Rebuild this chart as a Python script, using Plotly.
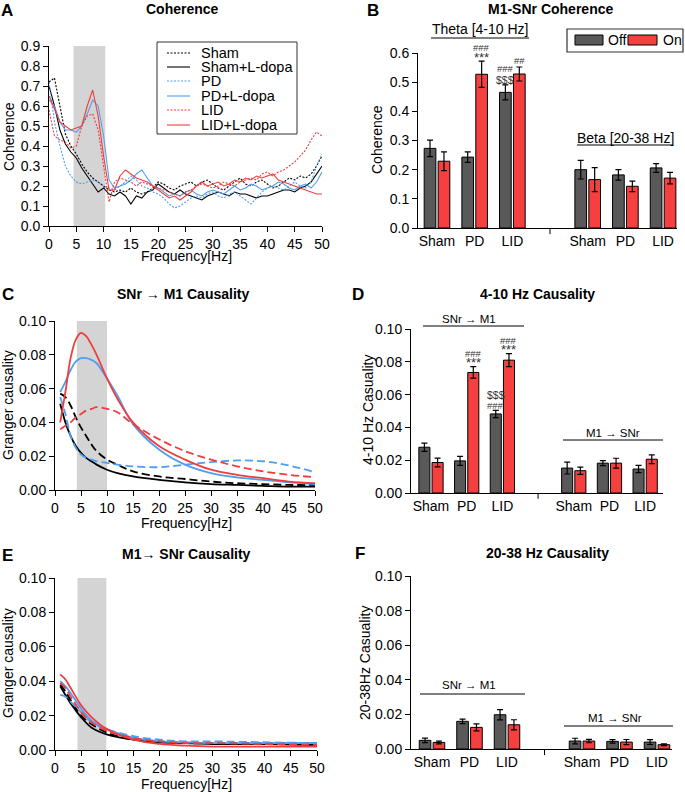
import plotly.graph_objects as go

W, H = 685, 792
FONT = "Liberation Sans, Arial, sans-serif"

# ---------- panel A: coherence spectra (1 Hz steps) ----------
freq_a = list(range(0, 51))
sham = [0.72, 0.74, 0.60, 0.46, 0.40, 0.36, 0.31, 0.27, 0.24, 0.22, 0.20, 0.18, 0.17, 0.18, 0.17, 0.19, 0.17,
        0.16, 0.17, 0.19, 0.22, 0.21, 0.19, 0.18, 0.20, 0.21, 0.22, 0.20, 0.22, 0.23, 0.21, 0.19, 0.18, 0.20,
        0.22, 0.24, 0.21, 0.20, 0.22, 0.23, 0.21, 0.19, 0.20, 0.22, 0.24, 0.23, 0.25, 0.24, 0.26, 0.30, 0.35]
sham_ld = [0.70, 0.60, 0.48, 0.41, 0.37, 0.34, 0.29, 0.25, 0.21, 0.17, 0.19, 0.16, 0.15, 0.17, 0.15, 0.11, 0.15,
           0.14, 0.17, 0.18, 0.21, 0.19, 0.17, 0.16, 0.18, 0.16, 0.15, 0.14, 0.13, 0.15, 0.16, 0.17, 0.16, 0.15,
           0.17, 0.16, 0.16, 0.15, 0.14, 0.15, 0.15, 0.16, 0.17, 0.18, 0.18, 0.17, 0.19, 0.20, 0.22, 0.26, 0.30]
pd_ = [0.72, 0.52, 0.40, 0.30, 0.25, 0.22, 0.21, 0.22, 0.23, 0.22, 0.20, 0.19, 0.18, 0.20, 0.22, 0.25, 0.23,
       0.20, 0.19, 0.17, 0.16, 0.14, 0.11, 0.09, 0.10, 0.12, 0.14, 0.15, 0.14, 0.16, 0.17, 0.15, 0.14, 0.16,
       0.17, 0.15, 0.13, 0.11, 0.14, 0.17, 0.19, 0.20, 0.19, 0.18, 0.20, 0.22, 0.20, 0.19, 0.22, 0.30, 0.36]
pd_ld = [0.63, 0.60, 0.52, 0.48, 0.48, 0.47, 0.50, 0.56, 0.63, 0.60, 0.45, 0.23, 0.19, 0.20, 0.21, 0.23, 0.26,
         0.28, 0.24, 0.20, 0.19, 0.17, 0.15, 0.16, 0.15, 0.17, 0.18, 0.16, 0.15, 0.17, 0.18, 0.17, 0.16, 0.18,
         0.20, 0.18, 0.19, 0.21, 0.20, 0.18, 0.19, 0.20, 0.22, 0.21, 0.19, 0.18, 0.20, 0.21, 0.19, 0.22, 0.27]
lid = [0.58, 0.45, 0.43, 0.42, 0.39, 0.40, 0.50, 0.55, 0.56, 0.48, 0.30, 0.12, 0.22, 0.24, 0.23, 0.22, 0.20,
       0.22, 0.21, 0.20, 0.19, 0.18, 0.17, 0.16, 0.15, 0.17, 0.18, 0.20, 0.21, 0.20, 0.19, 0.20, 0.22, 0.21,
       0.20, 0.22, 0.23, 0.24, 0.23, 0.26, 0.27, 0.25, 0.27, 0.28, 0.30, 0.32, 0.35, 0.38, 0.43, 0.47, 0.45]
lid_ld = [0.65, 0.58, 0.52, 0.50, 0.48, 0.49, 0.50, 0.60, 0.68, 0.55, 0.35, 0.18, 0.18, 0.25, 0.28, 0.26, 0.24,
          0.23, 0.22, 0.20, 0.18, 0.16, 0.14, 0.15, 0.13, 0.15, 0.17, 0.20, 0.22, 0.20, 0.21, 0.22, 0.20, 0.21,
          0.23, 0.22, 0.24, 0.23, 0.25, 0.24, 0.25, 0.26, 0.23, 0.22, 0.21, 0.20, 0.19, 0.18, 0.17, 0.16, 0.16]

# ---------- panel C: SNr -> M1 granger ----------
freq_c = [1, 2, 3, 4, 5, 6, 7, 8, 10, 12, 15, 20, 25, 30, 35, 40, 45, 50]
c_sham = [0.057, 0.055, 0.050, 0.043, 0.037, 0.032, 0.027, 0.023, 0.018, 0.015, 0.011, 0.008, 0.0065, 0.005, 0.004, 0.0035, 0.003, 0.003]
c_sham_ld = [0.051, 0.040, 0.032, 0.026, 0.022, 0.019, 0.017, 0.015, 0.012, 0.010, 0.008, 0.006, 0.0045, 0.0035, 0.003, 0.0025, 0.002, 0.002]
c_pd = [0.055, 0.045, 0.032, 0.025, 0.021, 0.019, 0.018, 0.017, 0.016, 0.015, 0.014, 0.0135, 0.015, 0.0165, 0.0175, 0.017, 0.0145, 0.0105]
c_pd_ld = [0.058, 0.064, 0.071, 0.076, 0.078, 0.078, 0.077, 0.075, 0.066, 0.056, 0.039, 0.024, 0.015, 0.010, 0.0075, 0.006, 0.0045, 0.0035]
c_lid = [0.036, 0.038, 0.040, 0.043, 0.045, 0.047, 0.048, 0.049, 0.048, 0.046, 0.039, 0.030, 0.023, 0.018, 0.014, 0.011, 0.009, 0.0075]
c_lid_ld = [0.040, 0.058, 0.078, 0.089, 0.093, 0.091, 0.086, 0.080, 0.066, 0.054, 0.040, 0.026, 0.018, 0.012, 0.009, 0.007, 0.005, 0.004]

# ---------- panel E: M1 -> SNr granger ----------
freq_e = [1, 2, 3, 5, 7, 10, 15, 20, 25, 30, 40, 50]
e_sham = [0.038, 0.034, 0.029, 0.020, 0.015, 0.010, 0.006, 0.005, 0.004, 0.004, 0.004, 0.004]
e_sham_ld = [0.037, 0.032, 0.027, 0.019, 0.013, 0.009, 0.006, 0.0045, 0.004, 0.0035, 0.0035, 0.003]
e_pd = [0.032, 0.031, 0.028, 0.022, 0.016, 0.012, 0.008, 0.006, 0.005, 0.005, 0.0045, 0.004]
e_pd_ld = [0.040, 0.037, 0.033, 0.024, 0.017, 0.012, 0.007, 0.005, 0.0045, 0.004, 0.004, 0.004]
e_lid = [0.039, 0.036, 0.031, 0.022, 0.016, 0.011, 0.007, 0.005, 0.004, 0.004, 0.0035, 0.003]
e_lid_ld = [0.044, 0.041, 0.036, 0.026, 0.019, 0.012, 0.006, 0.0035, 0.0025, 0.002, 0.002, 0.002]

# ---------- bar panels ----------
groups = ["Sham", "PD", "LID", "Sham", "PD", "LID"]
pos = [0, 1, 2, 4, 5, 6]

b_off = [0.273, 0.243, 0.465, 0.200, 0.182, 0.206]
b_off_err = [0.028, 0.018, 0.026, 0.032, 0.018, 0.015]
b_on = [0.229, 0.527, 0.528, 0.166, 0.143, 0.171]
b_on_err = [0.032, 0.045, 0.024, 0.041, 0.018, 0.020]

d_off = [0.0279, 0.0196, 0.0482, 0.0152, 0.0182, 0.0146]
d_off_err = [0.0025, 0.0027, 0.0022, 0.0036, 0.0015, 0.0022]
d_on = [0.0186, 0.0735, 0.0810, 0.0136, 0.0182, 0.0206]
d_on_err = [0.0027, 0.0035, 0.0040, 0.0022, 0.0030, 0.0027]

f_off = [0.0050, 0.0160, 0.0198, 0.0046, 0.0044, 0.0040]
f_off_err = [0.0013, 0.0013, 0.0030, 0.0016, 0.0010, 0.0014]
f_on = [0.0038, 0.0125, 0.0140, 0.0046, 0.0040, 0.0025]
f_on_err = [0.0008, 0.0020, 0.0029, 0.0010, 0.0015, 0.0005]

BLACK = "#000000"
BLUE = "#4f9ff0"
RED = "#f03c3c"
OFF_C = "#595959"
ON_C = "#f5403f"
DOT = "2px,1.5px"
DASH = "8px,4px"


def px(x):
    return x / W


def py(y):
    return 1 - y / H


fig = go.Figure()

# panel A lines
series_a = [("Sham", sham, BLACK, DOT), ("Sham+L-dopa", sham_ld, BLACK, "solid"),
            ("PD", pd_, BLUE, DOT), ("PD+L-dopa", pd_ld, BLUE, "solid"),
            ("LID", lid, RED, DOT), ("LID+L-dopa", lid_ld, RED, "solid")]
for name, ys, col, dash in series_a:
    fig.add_trace(go.Scatter(x=freq_a, y=ys, name=name, mode="lines", xaxis="x", yaxis="y",
                             line=dict(color=col, dash=dash, width=1.1), showlegend=False))

# panel C / E lines
styles = [(BLACK, DASH), (BLACK, "solid"), (BLUE, DASH), (BLUE, "solid"), (RED, DASH), (RED, "solid")]
for xa, ya, fr, data in [("x3", "y3", freq_c, [c_sham, c_sham_ld, c_pd, c_pd_ld, c_lid, c_lid_ld]),
                         ("x5", "y5", freq_e, [e_sham, e_sham_ld, e_pd, e_pd_ld, e_lid, e_lid_ld])]:
    for ys, (col, dash) in zip(data, styles):
        fig.add_trace(go.Scatter(x=fr, y=ys, mode="lines", xaxis=xa, yaxis=ya, showlegend=False,
                                 line=dict(color=col, dash=dash, width=1.8, shape="spline")))

# bar panels
bw = 0.31
off_shift = 0.185
for xa, ya, off, offe, on, one in [("x2", "y2", b_off, b_off_err, b_on, b_on_err),
                                   ("x4", "y4", d_off, d_off_err, d_on, d_on_err),
                                   ("x6", "y6", f_off, f_off_err, f_on, f_on_err)]:
    fig.add_trace(go.Bar(x=[p - off_shift for p in pos], y=off, width=bw, name="Off", xaxis=xa, yaxis=ya,
                         marker=dict(color=OFF_C, line=dict(color=BLACK, width=1)),
                         error_y=dict(type="data", array=offe, color=BLACK, thickness=1.2, width=3),
                         showlegend=False))
    fig.add_trace(go.Bar(x=[p + off_shift for p in pos], y=on, width=bw, name="On", xaxis=xa, yaxis=ya,
                         marker=dict(color=ON_C, line=dict(color=BLACK, width=1)),
                         error_y=dict(type="data", array=one, color=BLACK, thickness=1.2, width=3),
                         showlegend=False))

axis_common = dict(showline=True, linecolor=BLACK, linewidth=1, showgrid=False, zeroline=False,
                   ticks="outside", ticklen=5, tickcolor=BLACK, tickfont=dict(size=14, color=BLACK, family=FONT))


def line_x(dom, anchor):
    return dict(axis_common, domain=dom, anchor=anchor, range=[0, 50], dtick=5, tick0=0)


def bar_x(dom, anchor, rng):
    return dict(axis_common, domain=dom, anchor=anchor, range=rng, tickvals=pos, ticktext=groups,
                ticks="", ticklen=0)


def yax(dom, anchor, rng, dtick, fmt):
    return dict(axis_common, domain=dom, anchor=anchor, range=rng, dtick=dtick, tickformat=fmt)


fig.update_layout(
    width=W, height=H, margin=dict(l=0, r=0, t=0, b=0, autoexpand=False),
    paper_bgcolor="white", plot_bgcolor="white",
    font=dict(family=FONT, color=BLACK),
    barmode="overlay", showlegend=False,
    xaxis=line_x([px(49), px(322)], "y"),
    yaxis=yax([py(226), py(46)], "x", [0, 0.9], 0.1, ".1f"),
    xaxis2=bar_x([px(418), px(677)], "y2", [-0.504, 6.37]),
    yaxis2=yax([py(228), py(53)], "x2", [0, 0.6], 0.1, ".1f"),
    xaxis3=line_x([px(55), px(315)], "y3"),
    yaxis3=yax([py(490), py(321)], "x3", [0, 0.1], 0.02, ".2f"),
    xaxis4=bar_x([px(411), px(663)], "y4", [-0.56, 6.5]),
    yaxis4=yax([py(493), py(329)], "x4", [0, 0.1], 0.02, ".2f"),
    xaxis5=line_x([px(55), px(317)], "y5"),
    yaxis5=yax([py(750), py(578)], "x5", [0, 0.1], 0.02, ".2f"),
    xaxis6=bar_x([px(411), px(672)], "y6", [-0.56, 6.4]),
    yaxis6=yax([py(749), py(576)], "x6", [0, 0.1], 0.02, ".2f"),
)

shapes = []
# gray frequency bands
for xr, yr, x0, x1, top in [("x", "y", 4.5, 10.3, 0.9), ("x3", "y3", 4.2, 10.0, 0.1), ("x5", "y5", 4.3, 9.8, 0.1)]:
    shapes.append(dict(type="rect", xref=xr, yref=yr, x0=x0, x1=x1, y0=0, y1=top,
                       fillcolor="#d4d4d4", line=dict(width=0), layer="below"))
# separator ticks on bar axes
for xr, yr in [("x2", "y2 domain"), ("x4", "y4 domain"), ("x6", "y6 domain")]:
    shapes.append(dict(type="line", xref=xr, yref=yr, x0=3, x1=3, y0=0, y1=-0.035,
                       line=dict(color=BLACK, width=1)))
# group underlines (pixel positions)
for x0, x1, y in [(431, 529, 38), (577, 673, 145), (423, 524, 326), (563, 663, 440), (420, 525, 694), (564, 673, 726)]:
    shapes.append(dict(type="line", xref="paper", yref="paper", x0=px(x0), x1=px(x1), y0=py(y), y1=py(y),
                       line=dict(color=BLACK, width=1)))

ann = []


def txt(x, y, s, size=14, bold=False, angle=0, color=BLACK, xanchor="center"):
    ann.append(dict(x=px(x), y=py(y), xref="paper", yref="paper", text=("<b>%s</b>" % s) if bold else s,
                    showarrow=False, xanchor=xanchor, yanchor="middle", textangle=angle,
                    font=dict(size=size, color=color, family=FONT)))


# legend of panel A (drawn by hand to match the compact box)
shapes.append(dict(type="rect", xref="paper", yref="paper", x0=px(157), x1=px(297), y0=py(134), y1=py(42),
                   line=dict(color="#333333", width=1), fillcolor="white"))
for (name, ys, col, dash), yy in zip(series_a, [53, 67, 81, 96, 110, 125]):
    shapes.append(dict(type="line", xref="paper", yref="paper", x0=px(167), x1=px(190), y0=py(yy), y1=py(yy),
                       line=dict(color=col, dash=dash, width=1.1)))
    txt(199, yy, name, 14.5, xanchor="left")

# legend of panel B
shapes.append(dict(type="rect", xref="paper", yref="paper", x0=px(567), x1=px(683), y0=py(52), y1=py(29),
                   line=dict(color="#333333", width=1.2), fillcolor="white"))
shapes.append(dict(type="rect", xref="paper", yref="paper", x0=px(575), x1=px(603), y0=py(45), y1=py(35),
                   line=dict(color=BLACK, width=1), fillcolor=OFF_C))
shapes.append(dict(type="rect", xref="paper", yref="paper", x0=px(628), x1=px(657), y0=py(45), y1=py(35),
                   line=dict(color=BLACK, width=1), fillcolor=ON_C))
txt(606, 40, "Off", 14, xanchor="left")
txt(661, 40, "On", 14, xanchor="left")

# panel letters
for letter, x, y in [("A", 7, 10), ("B", 373, 10), ("C", 8, 295), ("D", 358, 295), ("E", 8, 555), ("F", 360, 553)]:
    txt(x, y, letter, size=17, bold=True)
# titles
txt(182, 9, "Coherence", 14, True)
txt(550, 9, "M1-SNr Coherence", 14, True)
txt(183, 294, "SNr → M1 Causality", 14, True)
txt(537, 294, "4-10 Hz Causality", 14, True)
txt(187, 554, "M1→ SNr Causality", 14, True)
txt(547, 553, "20-38 Hz Causality", 14, True)
# axis titles
txt(186, 256, "Frequency[Hz]", 14)
txt(186, 523, "Frequency[Hz]", 14)
txt(187, 784, "Frequency[Hz]", 14)
txt(9, 137, "Coherence", 14, angle=-90)
txt(377, 140, "Coherence", 14, angle=-90)
txt(8, 405, "Granger causality", 14, angle=-90)
txt(368, 410, "4-10 Hz Casuality", 14, angle=-90)
txt(8, 663, "Granger causality", 14, angle=-90)
txt(365, 663, "20-38Hz Casuality", 14, angle=-90)
# group labels
txt(480, 29, "Theta [4-10 Hz]", 14)
txt(625, 138, "Beta [20-38 Hz]", 14)
txt(469, 319, "SNr → M1", 11.5)
txt(613, 433, "M1 → SNr", 11.5)
txt(469, 685, "SNr → M1", 11.5)
txt(615, 718, "M1 → SNr", 11.5)

# significance marks anchored to bar tops: (axis, bar index, values, errors, side, [(text, size, px above)])
marks = [("x2", "y2", 1, b_on, b_on_err, off_shift, [("***", 13, 4), ("###", 9.5, 14)]),
         ("x2", "y2", 2, b_off, b_off_err, -off_shift, [("$$$", 10.5, 5), ("###", 9.5, 16)]),
         ("x2", "y2", 2, b_on, b_on_err, off_shift, [("##", 9.5, 7)]),
         ("x4", "y4", 1, d_on, d_on_err, off_shift, [("***", 13, 4), ("###", 9.5, 13)]),
         ("x4", "y4", 2, d_on, d_on_err, off_shift, [("***", 13, 4), ("###", 9.5, 13)]),
         ("x4", "y4", 2, d_off, d_off_err, -off_shift, [("###", 9.5, 5), ("$$$", 10.5, 15)])]
for xr, yr, i, vals, errs, sh, rows in marks:
    for s, size, up in rows:
        ann.append(dict(x=pos[i] + sh, y=vals[i] + errs[i], xref=xr, yref=yr, text=s, showarrow=False,
                        xanchor="center", yanchor="middle", yshift=up,
                        font=dict(size=size, color="#333333", family=FONT)))

fig.update_layout(shapes=shapes, annotations=ann)

# the page body has a default 8px margin; drop it so the figure sits at the window origin
fig.write_html("out.html", config={"displayModeBar": False},
               post_script="document.body.style.margin='0px';document.body.style.overflow='hidden';")
